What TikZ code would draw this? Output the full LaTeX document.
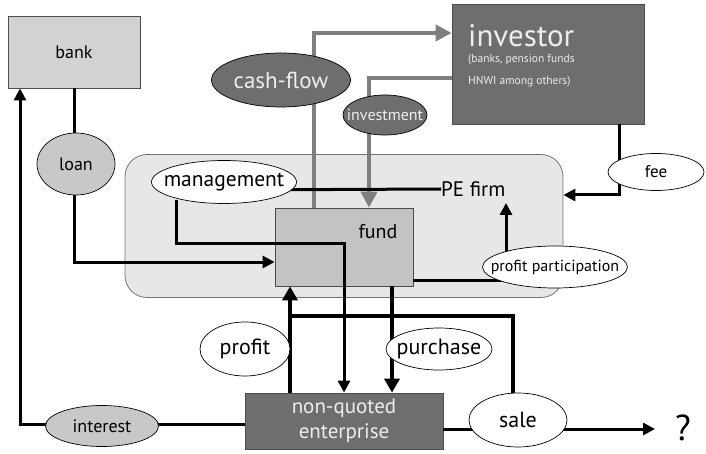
\documentclass[tikz,border=0pt]{standalone}
\usepackage{fontspec}
\setmainfont{PT Sans}
\usetikzlibrary{shapes.geometric,arrows.meta}
\definecolor{dk}{HTML}{6D6E70}
\definecolor{lt}{HTML}{D1D2D4}
\definecolor{mid}{HTML}{C7C8CA}
\definecolor{pe}{HTML}{E6E7E8}
\definecolor{fd}{HTML}{C2C3C5}
\definecolor{gl}{HTML}{7E7F81}
\definecolor{wt}{HTML}{EDEDED}
\tikzset{
  box/.style={draw=black!70, line width=0.8pt, inner sep=0pt},
  oval/.style={ellipse, draw=black, line width=0.7pt, inner sep=0pt},
  blk/.style={line width=3pt, draw=black},
  thk/.style={line width=4.5pt, draw=black},
  gry/.style={line width=4.5pt, draw=gl},
  tip/.style={-{Triangle[length=12pt,width=12pt]}},
  btip/.style={-{Triangle[length=14pt,width=15pt]}},
  gtip/.style={-{Triangle[length=16pt,width=16pt]}},
  txt/.style={inner sep=0pt}
}
\begin{document}
\begin{tikzpicture}[x=1pt,y=-1pt]
\useasboundingbox (0,0) rectangle (706,454);
% PE firm container
\node[box, draw=black!55, fill=pe, rounded corners=22pt, minimum width=438pt, minimum height=143pt] (pe) at (344,226) {};
% bank
\node[box, fill=lt, minimum width=132pt, minimum height=72pt, font=\fontsize{18}{20}\selectfont] (bank) at (74,52) {bank};
% investor
\node[box, fill=dk, minimum width=192pt, minimum height=120pt] (inv) at (548,64) {};
\node[txt, anchor=west, text=wt, font=\fontsize{31}{33}\selectfont] (invt) at (468,36) {investor};
\node[txt, anchor=west, text=wt, font=\fontsize{11.5}{13}\selectfont] (invs1) at (468,60) {(banks, pension funds};
\node[txt, anchor=west, text=wt, font=\fontsize{11.5}{13}\selectfont] (invs2) at (468,82) {HNWI among others)};
% fund
\node[box, fill=fd, minimum width=138pt, minimum height=78pt] (fund) at (344,247) {};
\node[txt, font=\fontsize{20}{22}\selectfont] (fundt) at (378,232) {fund};
% enterprise
\node[box, fill=dk, minimum width=198pt, minimum height=56pt, text=wt, align=center, font=\fontsize{21}{25}\selectfont] (ent) at (344,421) {non-quoted\\enterprise};
% PE firm text
\node[txt, font=\fontsize{21}{23}\selectfont, anchor=west] (pet) at (441,189) {PE firm};
% coordinates
\coordinate (c1) at (314,33);
\coordinate (c2) at (369,78);
\coordinate (c3) at (619,195);
\coordinate (c4) at (74,262);
\coordinate (c5) at (176,244);
\coordinate (c6) at (344,244);
\coordinate (c7) at (506,280);
\coordinate (c8) at (513,316);
\coordinate (c9) at (290,316);
\coordinate (c10) at (20,424);
\coordinate (q) at (655,429);
% connectors (behind ovals)
\draw[gry, gtip] (fund.north -| c1) -- (c1) -- (inv.west |- c1);
\draw[gry, gtip] (inv.west |- c2) -- (c2) -- (fund.north -| c2);
\draw[blk, tip] (inv.south -| c3) -- (c3) -- (pe.east |- c3);
\draw[blk, tip] (bank.south) -- (c4) -- (fund.west |- c4);
\draw[blk] (224,190) -- (pet.west);
\draw[blk, tip] (176,200) -- (c5) -- (c6) -- (ent.north -| c6);
\draw[blk, tip] (fund.east |- c7) -- (c7) -- (506,203);
\draw[thk, btip] (fund.south -| 392,0) -- (ent.north -| 392,0);
\draw[thk, btip] (ent.north -| c9) -- (fund.south -| c9);
\draw[thk] (c9) -- (c8) -- (513,405);
\draw[blk, tip] (ent.west |- c10) -- (c10) -- (bank.south -| c10);
\draw[blk, tip] (ent.east |- q) -- (q);
% ovals
\node[oval, fill=mid, minimum width=78pt, minimum height=62pt, label={[font=\fontsize{18}{20}\selectfont]center:loan}] (loan) at (76,164) {};
\node[oval, fill=dk, minimum width=139pt, minimum height=54pt, label={[text=wt, font=\fontsize{23}{25}\selectfont]center:cash-flow}] (cf) at (281,80) {};
\node[oval, fill=dk, minimum width=84pt, minimum height=40pt, label={[text=wt, font=\fontsize{16}{18}\selectfont]center:investment}] (invm) at (385,115) {};
\node[oval, fill=white, minimum width=96pt, minimum height=37pt, label={[font=\fontsize{17}{19}\selectfont]center:fee}] (fee) at (656,172) {};
\node[oval, fill=white, minimum width=145pt, minimum height=43pt, label={[font=\fontsize{21.5}{23}\selectfont]center:management}] (mgmt) at (224,182) {};
\node[oval, fill=white, minimum width=145pt, minimum height=42pt, label={[font=\fontsize{16}{18}\selectfont]center:profit participation}] (pp) at (555,267) {};
\node[oval, fill=white, minimum width=90pt, minimum height=54pt, label={[font=\fontsize{22}{24}\selectfont]center:profit}] (profit) at (245,349) {};
\node[oval, fill=white, minimum width=106pt, minimum height=42pt, label={[font=\fontsize{22}{24}\selectfont]center:purchase}] (pur) at (439,349) {};
\node[oval, fill=white, minimum width=98pt, minimum height=54pt, label={[font=\fontsize{22}{24}\selectfont]center:sale}] (sale) at (518,420) {};
\node[oval, fill=mid, minimum width=113pt, minimum height=41pt, label={[font=\fontsize{18}{20}\selectfont]center:interest}] (int) at (102,426) {};
\node[txt, font=\fontsize{36}{38}\selectfont] (qm) at (683,428) {?};
\end{tikzpicture}
\end{document}
